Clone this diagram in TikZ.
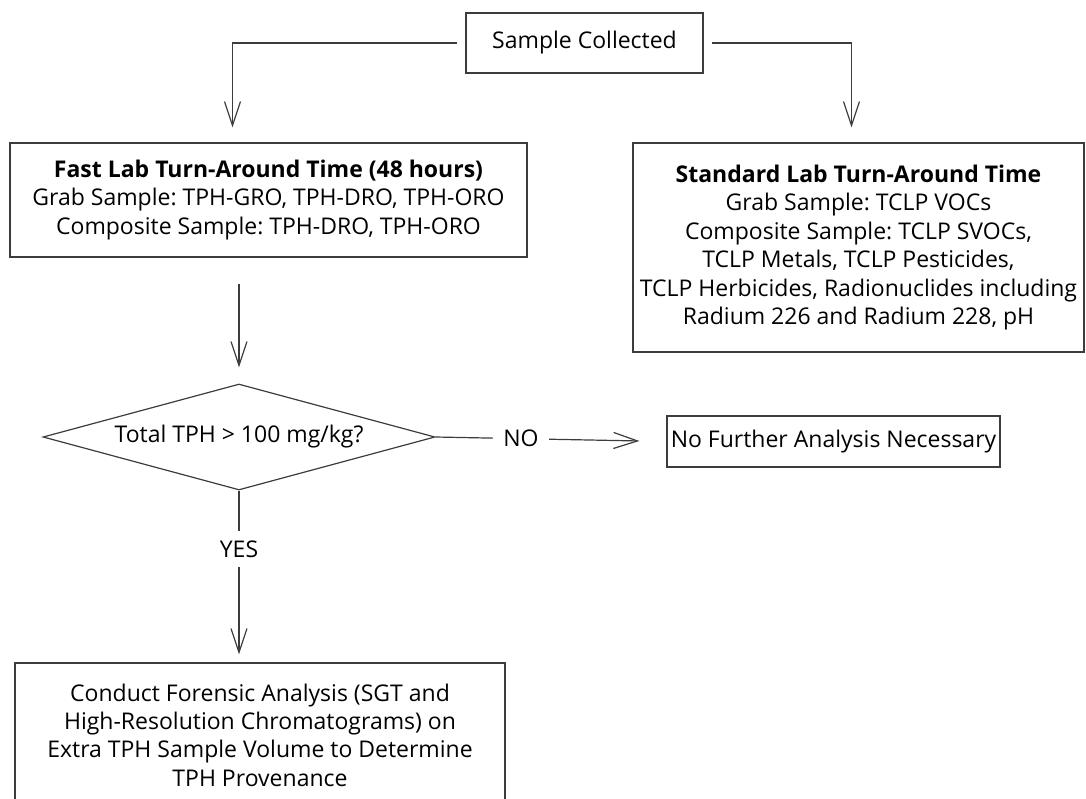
\documentclass[tikz,border=0pt]{standalone}
\usepackage{fontspec}
\setmainfont{Open Sans}
\frenchspacing
\usetikzlibrary{shapes.geometric, arrows.meta, positioning, calc}
\definecolor{lineGray}{HTML}{3C3C3C}
\tikzset{
  flowbox/.style={
    draw=lineGray, line width=0.6pt, align=center,
    font=\fontsize{11.5}{14.2}\selectfont, inner sep=0pt
  },
  flowdecision/.style={
    diamond, draw=lineGray, line width=0.6pt, aspect=3.7,
    font=\fontsize{11.5}{14}\selectfont, inner sep=0pt
  },
  flowline/.style={
    draw=lineGray, line width=0.6pt
  },
  flowarrow/.style={
    flowline, -{Straight Barb[length=12pt, width=8pt]}
  },
  flowlabel/.style={
    fill=white, font=\fontsize{11.5}{14}\selectfont, inner sep=5pt
  },
}
\begin{document}
\begin{tikzpicture}[x=0.5pt, y=-0.5pt]
  \clip (0,0) rectangle (1086,798);

  % Start
  \node[flowbox, minimum width=118.5pt, minimum height=30pt]
    (sample) at (584.5,43) {Sample Collected};

  % Lab turn-around branches
  \node[flowbox, minimum width=258.5pt, minimum height=57pt]
    (fast) at (268.5,200) {
    \textbf{Fast Lab Turn-Around Time (48 hours)}\\
    Grab Sample: TPH-GRO, TPH-DRO, TPH-ORO\\
    Composite Sample: TPH-DRO, TPH-ORO
  };
  \node[flowbox, minimum width=225.5pt, minimum height=104.5pt]
    (standard) at (858.5,247.5) {
    \textbf{Standard Lab Turn-Around Time}\\
    Grab Sample: TCLP VOCs\\
    Composite Sample: TCLP SVOCs,\\
    TCLP Metals, TCLP Pesticides,\\
    TCLP Herbicides, Radionuclides including\\
    Radium 226 and Radium 228, pH
  };

  % Decision
  \node[flowdecision, minimum width=196pt, minimum height=53pt]
    (check) at (239,437) {Total TPH > 100 mg/kg?};
  \node[flowbox, minimum width=166.5pt, minimum height=25.5pt]
    (nofurther) at (833.5,441.5) {No Further Analysis Necessary};
  \node[flowbox, minimum width=245pt, minimum height=72pt]
    (forensic) at (260,735) {
    Conduct Forensic Analysis (SGT and\\
    High-Resolution Chromatograms) on\\
    Extra TPH Sample Volume to Determine\\
    TPH Provenance
  };

  % Connectors
  \draw[flowarrow, shorten <=4pt, shorten >=7.5pt]
    (sample.west) -| ([xshift=-18pt]fast.north);
  \draw[flowarrow, shorten <=4pt, shorten >=7.5pt]
    (sample.east) -| ([xshift=-3.5pt]standard.north);
  \draw[flowarrow, shorten <=13pt, shorten >=8pt]
    (fast.south -| check.north) -- (check.north);
  \draw[flowarrow, shorten >=13.5pt]
    (check.east) -- node[flowlabel, pos=0.37] {NO} (nofurther.west);
  \draw[flowarrow, shorten >=4pt]
    (check.south) -- node[flowlabel, pos=0.34] {YES} (forensic.north -| check.south);
\end{tikzpicture}
\end{document}
